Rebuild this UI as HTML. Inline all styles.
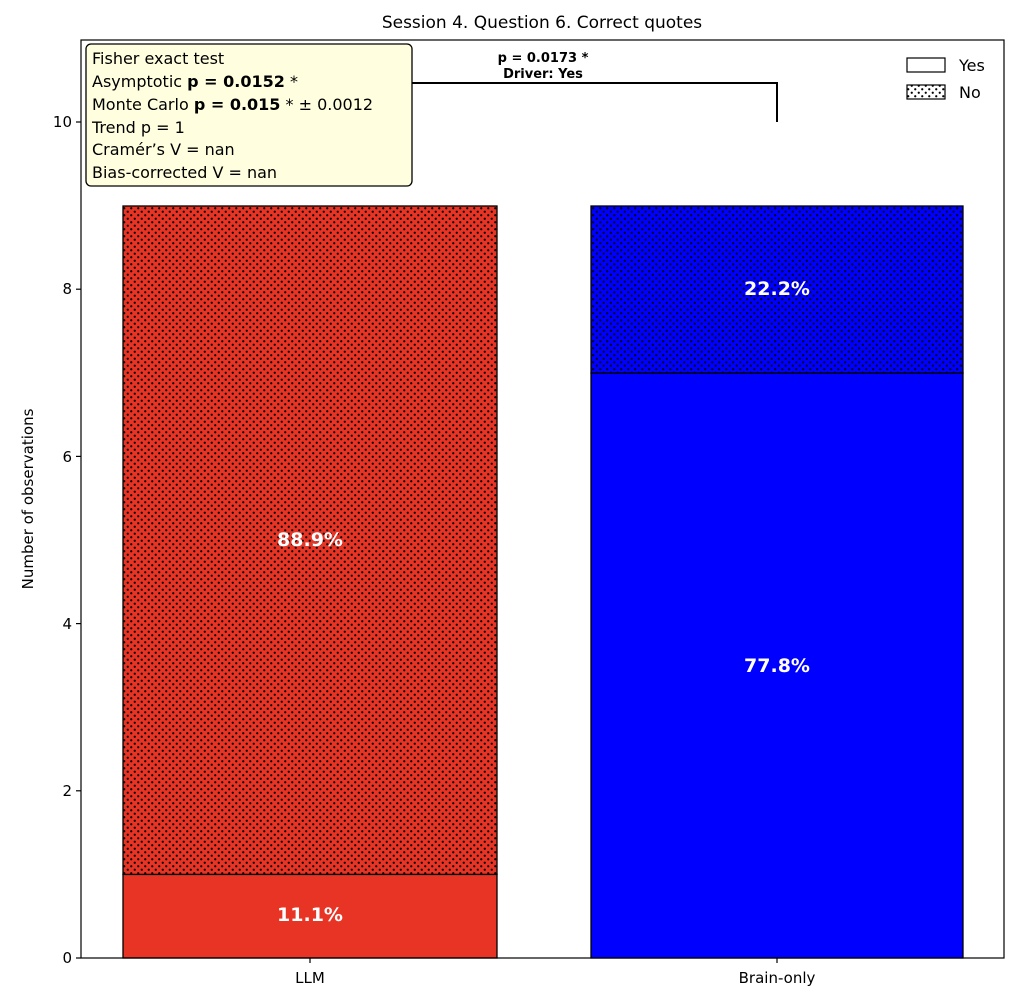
<!DOCTYPE html>
<html><head><meta charset="utf-8"><style>body{margin:0;background:#fff}svg{display:block}text{font-family:"DejaVu Sans","Liberation Sans",sans-serif}</style></head>
<body>
<svg width="1024" height="994" viewBox="0 0 1024 994" xmlns="http://www.w3.org/2000/svg">
<defs>
<pattern id="dots" width="7" height="7" patternUnits="userSpaceOnUse">
<circle cx="1.75" cy="1.75" r="1.1" fill="#000"/>
<circle cx="5.25" cy="5.25" r="1.1" fill="#000"/>
</pattern>
</defs>
<text x="542" y="28" font-size="17" text-anchor="middle">Session 4. Question 6. Correct quotes</text>
<rect x="123" y="874.4" width="374" height="83.6" fill="#e83424" stroke="#000" stroke-width="1.3"/>
<rect x="123" y="206" width="374" height="668.4" fill="#e83424"/>
<rect x="123" y="206" width="374" height="668.4" fill="url(#dots)" stroke="#000" stroke-width="1.3"/>
<rect x="591" y="373" width="372" height="585" fill="#0000ff" stroke="#000" stroke-width="1.3"/>
<rect x="591" y="206" width="372" height="167" fill="#0000ff"/>
<rect x="591" y="206" width="372" height="167" fill="url(#dots)" stroke="#000" stroke-width="1.3"/>
<g fill="#fff" font-size="19" font-weight="bold" text-anchor="middle">
<text x="310" y="921">11.1%</text>
<text x="310" y="546">88.9%</text>
<text x="777" y="672">77.8%</text>
<text x="777" y="295">22.2%</text>
</g>
<rect x="81" y="40" width="923" height="918" fill="none" stroke="#000" stroke-width="1.2"/>
<g stroke="#000" stroke-width="1.2">
<line x1="76" y1="958" x2="81" y2="958"/><line x1="76" y1="790.8" x2="81" y2="790.8"/>
<line x1="76" y1="623.6" x2="81" y2="623.6"/><line x1="76" y1="456.4" x2="81" y2="456.4"/>
<line x1="76" y1="289.2" x2="81" y2="289.2"/><line x1="76" y1="122" x2="81" y2="122"/>
<line x1="310" y1="958" x2="310" y2="963"/><line x1="777" y1="958" x2="777" y2="963"/>
</g>
<g font-size="15" text-anchor="end">
<text x="72" y="963">0</text><text x="72" y="796">2</text><text x="72" y="629">4</text>
<text x="72" y="462">6</text><text x="72" y="294">8</text><text x="72" y="127">10</text>
</g>
<g font-size="15" text-anchor="middle">
<text x="310" y="983">LLM</text><text x="777" y="983">Brain-only</text>
</g>
<text transform="translate(33,499) rotate(-90)" font-size="15" text-anchor="middle">Number of observations</text>
<polyline points="310,122 310,83 777,83 777,122" fill="none" stroke="#000" stroke-width="2"/>
<text x="543" y="62" font-size="13" font-weight="bold" text-anchor="middle">p = 0.0173 *</text>
<text x="543" y="78" font-size="13" font-weight="bold" text-anchor="middle">Driver: Yes</text>
<rect x="86" y="44" width="326" height="142" rx="5" fill="#ffffe0" stroke="#000" stroke-width="1.3"/>
<g font-size="16">
<text x="92" y="64">Fisher exact test</text>
<text x="92" y="87">Asymptotic <tspan font-weight="bold">p = 0.0152</tspan> *</text>
<text x="92" y="110">Monte Carlo <tspan font-weight="bold">p = 0.015</tspan> * ± 0.0012</text>
<text x="92" y="133">Trend p = 1</text>
<text x="92" y="155">Cramér’s V = nan</text>
<text x="92" y="178">Bias-corrected V = nan</text>
</g>
<rect x="907" y="58" width="38" height="14" fill="#fff" stroke="#000" stroke-width="1.2"/>
<rect x="907" y="85" width="38" height="14" fill="url(#dots)" stroke="#000" stroke-width="1.2"/>
<text x="959" y="71" font-size="16">Yes</text>
<text x="959" y="98" font-size="16">No</text>
</svg>
</body></html>
